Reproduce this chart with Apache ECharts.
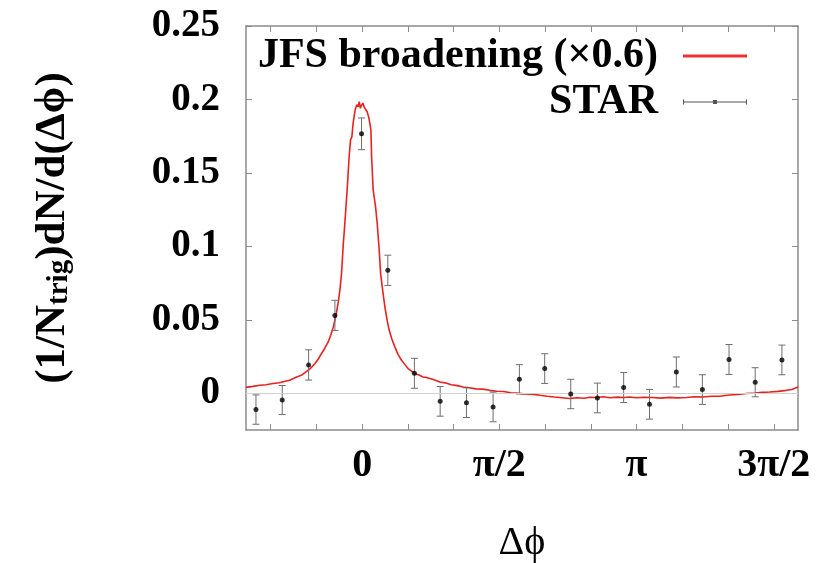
<!DOCTYPE html>
<html><head><meta charset="utf-8">
<script src="https://cdn.jsdelivr.net/npm/echarts@6/dist/echarts.min.js"></script>
<style>html,body{margin:0;padding:0;background:#fff}#c{width:825px;height:563px}</style>
</head><body><div id="c"></div>
<script>
// JFS broadening (x0.6) curve
const curveX = [-1.33,-1.25,-1.17,-1.10,-1.02,-0.95,-0.88,-0.83,-0.75,-0.69,-0.64,-0.59,-0.54,-0.50,-0.465,-0.43,-0.39,-0.36,-0.33,-0.30,-0.27,-0.25,-0.236,-0.217,-0.198,-0.172,-0.149,-0.133,-0.118,-0.103,-0.080,-0.061,-0.045,-0.034,-0.020,-0.008,0.008,0.025,0.042,0.057,0.077,0.090,0.100,0.108,0.126,0.153,0.172,0.195,0.211,0.235,0.260,0.285,0.309,0.34,0.374,0.41,0.451,0.49,0.526,0.565,0.603,0.65,0.698,0.735,0.775,0.83,0.889,0.95,1.02,1.09,1.156,1.23,1.30,1.38,1.461,1.54,1.62,1.70,1.767,1.85,1.94,2.033,2.12,2.20,2.29,2.376,2.46,2.54,2.61,2.682,2.76,2.84,2.92,3.00,3.063,3.14,3.23,3.33,3.42,3.52,3.61,3.712,3.80,3.90,4.00,4.093,4.20,4.30,4.398,4.50,4.58,4.665,4.76,4.856,4.92,4.99];
const curveY = [0.0040,0.0047,0.0055,0.0058,0.0066,0.0072,0.0082,0.0089,0.0111,0.0125,0.0147,0.0170,0.0203,0.0235,0.0271,0.0305,0.0348,0.0395,0.0452,0.0530,0.0634,0.0730,0.0816,0.1009,0.1159,0.1384,0.1612,0.1725,0.1745,0.1841,0.1930,0.1964,0.1950,0.1985,0.1940,0.1960,0.1975,0.1945,0.1957,0.1916,0.1875,0.1830,0.1794,0.1612,0.1384,0.1271,0.1159,0.0975,0.0816,0.0700,0.0589,0.0500,0.0430,0.0370,0.0316,0.0265,0.0225,0.0195,0.0168,0.0150,0.0134,0.0125,0.0111,0.0108,0.0100,0.0090,0.0077,0.0071,0.0058,0.0052,0.0043,0.0038,0.0030,0.0028,0.0020,0.0014,0.0012,0.0004,0.0002,-0.0004,-0.0006,-0.0014,-0.0020,-0.0025,-0.0030,-0.0036,-0.0030,-0.0034,-0.0027,-0.0029,-0.0024,-0.0030,-0.0026,-0.0029,-0.0025,-0.0031,-0.0027,-0.0029,-0.0033,-0.0028,-0.0031,-0.0029,-0.0024,-0.0025,-0.0020,-0.0020,-0.0012,-0.0008,-0.0002,0.0002,0.0006,0.0009,0.0013,0.0020,0.0026,0.0043];

// STAR data points
const starX = [-1.216,-0.915,-0.613,-0.312,-0.007,0.294,0.598,0.893,1.194,1.499,1.80,2.09,2.388,2.693,2.994,3.29,3.597,3.895,4.2,4.5,4.806];
const starY = [-0.0111,-0.0046,0.0193,0.053,0.1766,0.0837,0.0136,-0.0055,-0.0064,-0.0093,0.0095,0.0168,-0.0005,-0.0032,0.0039,-0.0075,0.0145,0.0025,0.023,0.0075,0.0227];
const starErr = [0.0100,0.0099,0.0103,0.0103,0.0108,0.0103,0.0102,0.0101,0.0101,0.0101,0.0100,0.0101,0.0100,0.0101,0.0102,0.0101,0.0102,0.0101,0.0102,0.0099,0.0101];

// Tick labels
const yTickValues = [0, 0.05, 0.1, 0.15, 0.2, 0.25];
const yTickLabels = ['0', '0.05', '0.1', '0.15', '0.2', '0.25'];
const xLabelValues = [0, Math.PI / 2, Math.PI, 3 * Math.PI / 2];
const xTickLabels = ['0', 'π/2', 'π', '3π/2'];
const xTickSteps = [-2, -1, 0, 1, 2, 3, 4, 5, 6, 7, 8, 9]; // multiples of π/6
const xTickValues = xTickSteps.map(k => k * Math.PI / 6);

const FONT = '"Liberation Serif", "Times New Roman", serif';
const AXC = '#8c8c8c';
const X_MIN = -1.33, X_MAX = 4.99, Y_MIN = -0.025, Y_MAX = 0.25;

function lookup(vals, labels, v) {
  for (let i = 0; i < vals.length; i++) if (Math.abs(vals[i] - v) < 1e-6) return labels[i];
  return '';
}

const chart = echarts.init(document.getElementById('c'), null, { renderer: 'canvas' });

const xBase = {
  type: 'value', min: X_MIN, max: X_MAX,
  axisLine: { show: true, onZero: false, lineStyle: { color: AXC, width: 1.5 } },
  axisTick: { show: true, inside: true, length: 6, customValues: xTickValues, lineStyle: { color: AXC, width: 1 } },
  splitLine: { show: false }
};
const yBase = {
  type: 'value', min: Y_MIN, max: Y_MAX,
  axisLine: { show: true, onZero: false, lineStyle: { color: AXC, width: 1.5 } },
  axisTick: { show: true, inside: true, length: 6, customValues: yTickValues, lineStyle: { color: AXC, width: 1 } },
  splitLine: { show: false }
};

chart.setOption({
  animation: false,
  backgroundColor: '#fff',
  grid: { left: 246, right: 27, top: 26, bottom: 133, containLabel: false, outerBoundsMode: 'none' },
  legend: {
    orient: 'vertical', right: 73, top: 30, align: 'right',
    itemWidth: 64, itemHeight: 6, itemGap: 4,
    textStyle: { fontFamily: FONT, fontWeight: 'bold', fontSize: 42, color: '#000', lineHeight: 40, padding: [0, 20, 0, 0] },
    data: [
      { name: 'JFS broadening (×0.6)', icon: 'path://M0,1.5h64v3h-64z M0,0h0.01v6h-0.01z', itemStyle: { color: '#ee3030' } },
      { name: 'STAR', icon: 'path://M0,2.5h64v1h-64z M0,0.5h1v5h-1z M63,0.5h1v5h-1z M30,1h4v4h-4z M0,0h0.01v6h-0.01z', itemStyle: { color: '#555' } }
    ]
  },
  xAxis: [
    Object.assign({}, xBase, {
      position: 'bottom',
      axisLabel: {
        customValues: xLabelValues, formatter: v => lookup(xLabelValues, xTickLabels, v),
        fontFamily: FONT, fontWeight: 'bold', fontSize: 40, color: '#000', margin: 16
      },
      name: 'Δϕ', nameLocation: 'middle', nameGap: 93,
      nameTextStyle: { fontFamily: FONT, fontSize: 40, color: '#000' }
    }),
    Object.assign({}, xBase, { position: 'top', axisLabel: { show: false } })
  ],
  yAxis: [
    Object.assign({}, yBase, {
      position: 'left',
      axisLabel: {
        customValues: yTickValues, formatter: v => lookup(yTickValues, yTickLabels, v),
        fontFamily: FONT, fontWeight: 'bold', fontSize: 39, color: '#000', margin: 26
      },
      name: '{m|(1/N}{s|trig}{m|)dN/d(Δϕ)}', nameLocation: 'middle', nameGap: 172,
      nameTextStyle: {
        fontFamily: FONT, fontWeight: 'bold', color: '#000',
        rich: {
          m: { fontFamily: FONT, fontWeight: 'bold', fontSize: 43, lineHeight: 43, verticalAlign: 'top', color: '#000' },
          s: { fontFamily: FONT, fontWeight: 'bold', fontSize: 29, lineHeight: 29, verticalAlign: 'bottom', padding: [22, 0, 0, 0], color: '#000' }
        }
      }
    }),
    Object.assign({}, yBase, { position: 'right', axisLabel: { show: false } })
  ],
  series: [
    {
      name: 'JFS broadening (×0.6)', type: 'line', xAxisIndex: 0, yAxisIndex: 0,
      data: curveX.map((x, i) => [x, curveY[i]]),
      showSymbol: false, symbol: 'none', color: '#e8221e',
      lineStyle: { color: '#e8221e', width: 1.6 }, z: 3,
      markLine: {
        silent: true, symbol: 'none', label: { show: false },
        lineStyle: { color: '#d0d0d0', width: 1, type: 'solid' },
        data: [{ yAxis: 0 }]
      }
    },
    {
      name: 'STAR', type: 'custom', xAxisIndex: 0, yAxisIndex: 0,
      data: starX.map((x, i) => [x, starY[i], starErr[i]]),
      encode: { x: 0, y: 1 }, z: 4,
      renderItem: function (params, api) {
        const x = api.value(0), y = api.value(1), e = api.value(2);
        const t = api.coord([x, y + e]);
        const b = api.coord([x, y - e]);
        const hw = 3.5;
        const st = { stroke: '#6e6e6e', lineWidth: 1 };
        return {
          type: 'group', children: [
            { type: 'line', shape: { x1: t[0], y1: t[1], x2: b[0], y2: b[1] }, style: st },
            { type: 'line', shape: { x1: t[0] - hw, y1: t[1], x2: t[0] + hw, y2: t[1] }, style: st },
            { type: 'line', shape: { x1: b[0] - hw, y1: b[1], x2: b[0] + hw, y2: b[1] }, style: st }
          ]
        };
      }
    },
    {
      name: 'STAR', type: 'scatter', xAxisIndex: 0, yAxisIndex: 0,
      data: starX.map((x, i) => [x, starY[i]]),
      symbol: 'circle', symbolSize: 5, itemStyle: { color: '#000' }, z: 5
    }
  ]
});
</script>
</body></html>
